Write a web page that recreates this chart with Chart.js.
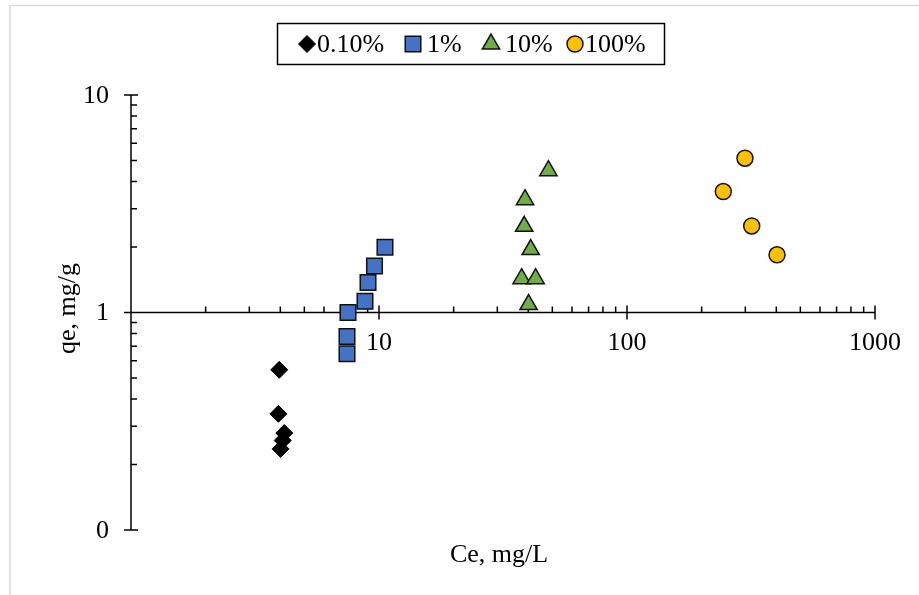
<!DOCTYPE html>
<html>
<head>
<meta charset="utf-8">
<script src="https://cdn.jsdelivr.net/npm/chart.js@4.4.0/dist/chart.umd.min.js"></script>
<style>
  body { margin: 0; background: #fff; }
  #wrap { width: 919px; height: 595px; }
</style>
</head>
<body>
<div id="wrap"><canvas id="myChart"></canvas></div>
<script>
// isotherm data, Ce (mg/L) vs qe (mg/g), one pair of arrays per dose
const seriesLabels = ['0.10%', '1%', '10%', '100%'];

const ce_010 = [3.96, 3.93, 4.15, 4.09, 4.01];
const qe_010 = [0.545, 0.342, 0.279, 0.258, 0.236];

const ce_1 = [10.57, 9.59, 9.03, 8.78, 7.50, 7.43, 7.43];
const qe_1 = [1.996, 1.636, 1.374, 1.127, 1.0, 0.776, 0.646];

const ce_10 = [48.2, 38.8, 38.5, 40.9, 37.6, 42.8, 40.1];
const qe_10 = [4.49, 3.30, 2.49, 1.946, 1.43, 1.43, 1.087];

const ce_100 = [299, 244.5, 318.3, 402.6];
const qe_100 = [5.12, 3.60, 2.50, 1.842];

const xTicks = [10, 100, 1000];
const xTickLabels = ['10', '100', '1000'];
const yTicks = [0.1, 1, 10];
const yTickLabels = ['0', '1', '10'];

const FONT = '26px "Liberation Serif", "Times New Roman", serif';

const toPoints = (xs, ys) => xs.map((v, i) => ({ x: v, y: ys[i] }));

const datasets = [
  { label: seriesLabels[0], data: toPoints(ce_010, qe_010), pointStyle: 'rectRot', radius: 8.5,
    backgroundColor: '#000000', borderColor: '#000000', borderWidth: 1 },
  { label: seriesLabels[1], data: toPoints(ce_1, qe_1), pointStyle: 'rect', radius: 11,
    backgroundColor: '#4472C4', borderColor: '#111111', borderWidth: 1.5 },
  { label: seriesLabels[2], data: toPoints(ce_10, qe_10), pointStyle: 'triangle', radius: 10,
    backgroundColor: '#70AD47', borderColor: '#111111', borderWidth: 1.5 },
  { label: seriesLabels[3], data: toPoints(ce_100, qe_100), pointStyle: 'circle', radius: 8,
    backgroundColor: '#FFC000', borderColor: '#111111', borderWidth: 1.5 }
];

// 2..9 inside each decade
const minorTicks = (lo, hi) => {
  const out = [];
  for (let d = lo; d < hi; d *= 10) {
    for (let k = 2; k <= 9; k++) out.push(d * k);
  }
  return out;
};

const drawMarker = (ctx, ds, px, py) => {
  ctx.save();
  ctx.fillStyle = ds.backgroundColor;
  ctx.strokeStyle = ds.borderColor;
  ctx.lineWidth = ds.borderWidth;
  Chart.helpers.drawPoint(ctx, { pointStyle: ds.pointStyle, radius: ds.radius, rotation: 0, borderWidth: ds.borderWidth }, px, py);
  ctx.restore();
};

const axesPlugin = {
  id: 'crossAxes',
  beforeDatasetsDraw(chart) {
    const { ctx } = chart;
    const xs = chart.scales.x, ys = chart.scales.y;
    const x0 = xs.getPixelForValue(1);
    const y0 = ys.getPixelForValue(1);
    ctx.save();

    // outer frame
    ctx.strokeStyle = '#d9d9d9';
    ctx.lineWidth = 1.5;
    ctx.beginPath();
    ctx.moveTo(10, 600);
    ctx.lineTo(10, 5.5);
    ctx.lineTo(925, 5.5);
    ctx.stroke();

    ctx.strokeStyle = '#000';
    ctx.lineWidth = 1.5;
    ctx.beginPath();
    ctx.moveTo(x0, ys.top);
    ctx.lineTo(x0, ys.bottom);
    ctx.moveTo(xs.left, y0);
    ctx.lineTo(xs.right, y0);

    yTicks.forEach(v => {
      const p = ys.getPixelForValue(v);
      ctx.moveTo(x0 - 7, p); ctx.lineTo(x0 + 7, p);
    });
    [1, ...xTicks].forEach(v => {
      const p = xs.getPixelForValue(v);
      ctx.moveTo(p, y0 - 7); ctx.lineTo(p, y0 + 7);
    });
    minorTicks(0.1, 10).forEach(v => {
      const p = ys.getPixelForValue(v);
      ctx.moveTo(x0, p); ctx.lineTo(x0 + 6, p);
    });
    minorTicks(1, 1000).forEach(v => {
      const p = xs.getPixelForValue(v);
      ctx.moveTo(p, y0); ctx.lineTo(p, y0 - 6);
    });
    ctx.stroke();

    // tick labels
    ctx.fillStyle = '#000';
    ctx.font = FONT;
    ctx.textBaseline = 'middle';
    ctx.textAlign = 'right';
    yTicks.forEach((v, i) => {
      ctx.fillText(yTickLabels[i], x0 - 22, ys.getPixelForValue(v) + 1);
    });
    ctx.textAlign = 'center';
    xTicks.forEach((v, i) => {
      ctx.fillText(xTickLabels[i], xs.getPixelForValue(v), y0 + 31);
    });

    // axis titles
    ctx.fillText('Ce, mg/L', (xs.left + xs.right) / 2 - 4, 555);
    ctx.save();
    ctx.translate(68, (ys.top + ys.bottom) / 2 - 4);
    ctx.rotate(-Math.PI / 2);
    ctx.fillText('qe, mg/g', 0, 0);
    ctx.restore();

    ctx.restore();
  },
  afterDraw(chart) {
    const { ctx } = chart;
    ctx.save();
    ctx.strokeStyle = '#000';
    ctx.lineWidth = 1.5;
    ctx.strokeRect(277.5, 23.5, 387, 41);
    ctx.font = FONT;
    ctx.fillStyle = '#000';
    ctx.textAlign = 'left';
    ctx.textBaseline = 'middle';
    const markerX = [307, 413, 491, 575];
    const textX = [317, 427, 505, 585];
    chart.data.datasets.forEach((ds, i) => {
      drawMarker(ctx, ds, markerX[i], 44);
      ctx.fillStyle = '#000';
      ctx.fillText(ds.label, textX[i], 45);
    });
    ctx.restore();
  }
};

const ctx = document.getElementById('myChart').getContext('2d');
const myChart = new Chart(ctx, {
  type: 'scatter',
  data: { datasets: datasets },
  options: {
    responsive: true,
    maintainAspectRatio: false,
    animation: false,
    layout: { padding: { left: 131, right: 44, top: 95, bottom: 65 } },
    scales: {
      x: { type: 'logarithmic', min: 1, max: 1000, display: false },
      y: { type: 'logarithmic', min: 0.1, max: 10, display: false }
    },
    plugins: {
      legend: { display: false },
      tooltip: { enabled: false }
    }
  },
  plugins: [axesPlugin]
});
</script>
</body>
</html>
